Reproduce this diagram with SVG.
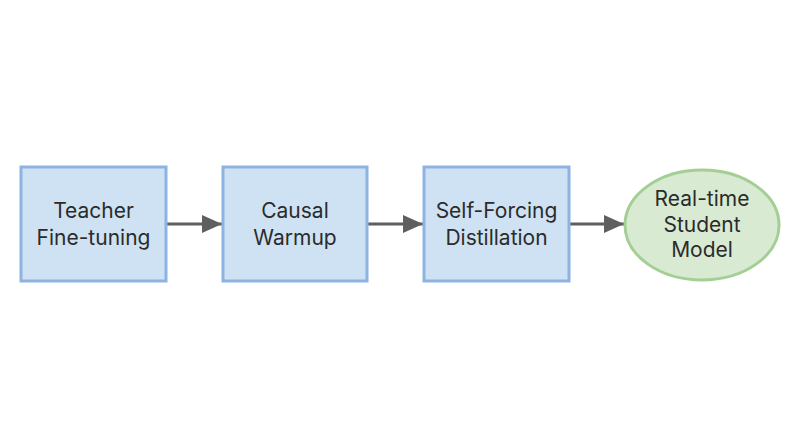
<svg xmlns="http://www.w3.org/2000/svg" width="800" height="447" viewBox="0 0 800 447">
<defs>
<style>
.box{fill:#cfe2f3;stroke:#8db3e2;stroke-width:3}
.oval{fill:#d9ead3;stroke:#a4cf94;stroke-width:3}
.lbl{font-family:Inter,"Liberation Sans",sans-serif;font-size:21px;fill:#2b2b2b;text-anchor:middle}
.edge{stroke:#5f5f5f;stroke-width:3;fill:none}
</style>
<marker id="arr" viewBox="0 0 20 18" refX="20" refY="9" markerWidth="20" markerHeight="18" markerUnits="userSpaceOnUse" orient="auto">
<path d="M0,0 L20,9 L0,18 Z" fill="#5f5f5f"/>
</marker>
</defs>
<rect width="800" height="447" fill="#ffffff"/>
<g id="connectors">
<line class="edge" x1="167" y1="224" x2="222" y2="224" marker-end="url(#arr)"/>
<line class="edge" x1="368" y1="224" x2="423" y2="224" marker-end="url(#arr)"/>
<line class="edge" x1="570" y1="224" x2="624" y2="224" marker-end="url(#arr)"/>
</g>
<g id="teacher">
<rect class="box" x="21" y="167" width="145" height="114"/>
<text class="lbl" x="93.5" y="218">Teacher</text>
<text class="lbl" x="93.5" y="245">Fine-tuning</text>
</g>
<g id="causal">
<rect class="box" x="223" y="167" width="144" height="114"/>
<text class="lbl" x="295" y="218">Causal</text>
<text class="lbl" x="295" y="245">Warmup</text>
</g>
<g id="selfforcing">
<rect class="box" x="424" y="167" width="145" height="114"/>
<text class="lbl" x="496.5" y="218">Self-Forcing</text>
<text class="lbl" x="496.5" y="245">Distillation</text>
</g>
<g id="student">
<ellipse class="oval" cx="702" cy="225" rx="77" ry="55"/>
<text class="lbl" x="702" y="206">Real-time</text>
<text class="lbl" x="702" y="232">Student</text>
<text class="lbl" x="702" y="257">Model</text>
</g>
</svg>
